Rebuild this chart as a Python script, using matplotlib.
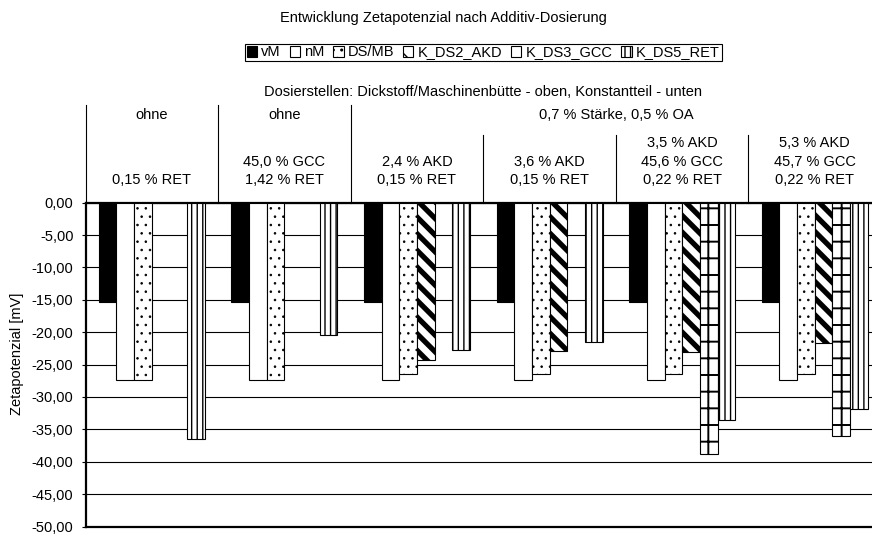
import numpy as np
import matplotlib
matplotlib.use("Agg")
import matplotlib.pyplot as plt
from matplotlib.patches import Rectangle
from matplotlib.lines import Line2D
from matplotlib.transforms import blended_transform_factory
from matplotlib.ticker import FuncFormatter, MultipleLocator

plt.rcParams['font.family'] = ['Liberation Sans', 'DejaVu Sans']

# ---- data -------------------------------------------------------------
series_names = ["vM", "nM", "DS/MB", "K_DS2_AKD", "K_DS3_GCC", "K_DS5_RET"]
nan = np.nan
vM = [-15.4, -15.4, -15.4, -15.4, -15.4, -15.4]
nM = [-27.4, -27.4, -27.4, -27.4, -27.4, -27.4]
DS_MB = [-27.4, -27.4, -26.4, -26.4, -26.4, -26.4]
K_DS2_AKD = [nan, nan, -24.3, -22.9, -23.0, -21.7]
K_DS3_GCC = [nan, nan, nan, nan, -38.8, -36.0]
K_DS5_RET = [-36.5, -20.4, -22.7, -21.5, -33.6, -31.9]
series_values = [vM, nM, DS_MB, K_DS2_AKD, K_DS3_GCC, K_DS5_RET]

group_top = ["ohne", "ohne"]
group_span_top = "0,7 % Stärke, 0,5 % OA"
group_lines = [
    ["0,15 % RET"],
    ["45,0 % GCC", "1,42 % RET"],
    ["2,4 % AKD", "0,15 % RET"],
    ["3,6 % AKD", "0,15 % RET"],
    ["3,5 % AKD", "45,6 % GCC", "0,22 % RET"],
    ["5,3 % AKD", "45,7 % GCC", "0,22 % RET"],
]
title = "Entwicklung Zetapotenzial nach Additiv-Dosierung"
subtitle = "Dosierstellen: Dickstoff/Maschinenbütte - oben, Konstantteil - unten"
ylabel = "Zetapotenzial [mV]"

# ---- styles (face, hatch, hatch linewidth) -----------------------------
styles = [
    dict(fc="black", hatch=None, hlw=1.0),
    dict(fc="white", hatch=None, hlw=1.0),
    dict(fc="white", hatch="..", hlw=0.6),
    dict(fc="white", hatch="\\\\", hlw=3.8),
    dict(fc="white", hatch="+", hlw=1.4),
    dict(fc="white", hatch="|||", hlw=1.0),
]

FS = 10.5
W, H, DPI = 872, 534, 100
fig = plt.figure(figsize=(W / DPI, H / DPI), dpi=DPI)


def fx(px):
    return px / W


def fy(py):
    return 1 - py / H


x_left, x_step = 85.5, 132.6
y_top, y_bot = 202.7, 526.5
ax = fig.add_axes([fx(x_left), fy(y_bot), fx(6 * x_step), fy(y_top) - fy(y_bot)])

n_groups = len(group_lines)
xs = np.arange(n_groups)
slot = 1 / 7.5


def make_patch_style(p, st):
    if st["hatch"]:
        p.set_hatch(st["hatch"])
        if hasattr(p, "set_hatch_linewidth"):
            p.set_hatch_linewidth(st["hlw"])


handles = []
for k, (name, vals, st) in enumerate(zip(series_names, series_values, styles)):
    vals = np.asarray(vals, float)
    mask = ~np.isnan(vals)
    offs = (k - 2.5) * slot
    with plt.rc_context({"hatch.linewidth": st["hlw"]}):
        bars = ax.bar(xs[mask] + offs, vals[mask], width=slot, facecolor=st["fc"],
                      edgecolor="black", linewidth=0.8, zorder=3)
        for b in bars:
            make_patch_style(b, st)
        h = Rectangle((0, 0), 1, 1, facecolor=st["fc"], edgecolor="black",
                      linewidth=0.8, label=name)
        make_patch_style(h, st)
    handles.append(h)

ax.set_xlim(-0.5, n_groups - 0.5)
ax.set_ylim(-50, 0)
ax.set_xticks([])
ax.yaxis.set_major_locator(MultipleLocator(5))
ax.yaxis.set_major_formatter(FuncFormatter(lambda v, _: f"{v:.2f}".replace(".", ",")))
ax.tick_params(axis="y", length=3.2, width=0.8, pad=5.5, labelsize=FS, colors="black")
ax.yaxis.grid(True, color="black", linewidth=0.8)
ax.set_axisbelow(True)
for side in ("left", "bottom", "top"):
    ax.spines[side].set_linewidth(1.6)
ax.spines["right"].set_visible(False)

# ---- header above the plot ---------------------------------------------
tr = blended_transform_factory(ax.transData, fig.transFigure)
for i in range(n_groups):
    y_start = 105 if i <= 2 else 135
    ax.add_artist(Line2D([i - 0.5, i - 0.5], [fy(y_start), fy(y_top)], transform=tr,
                         color="black", linewidth=0.8, clip_on=False))

for i, t in enumerate(group_top):
    fig.text(i, fy(115), t, transform=tr, ha="center", va="center", fontsize=FS)
fig.text((2 + n_groups - 1) / 2, fy(115), group_span_top, transform=tr,
         ha="center", va="center", fontsize=FS)

line_y = [143, 161.5, 180]
for i, lines in enumerate(group_lines):
    ys = line_y[-len(lines):]
    for t, yy in zip(lines, ys):
        fig.text(i, fy(yy), t, transform=tr, ha="center", va="center", fontsize=FS)

x_mid = (n_groups - 1) / 2
fig.text(fx(443), fy(18), title, ha="center", va="center", fontsize=FS)
fig.text(x_mid, fy(92), subtitle, transform=tr, ha="center", va="center", fontsize=FS)
fig.text(fx(16.7), fy(354), ylabel, rotation=90, ha="center", va="center", fontsize=FS)

leg = fig.legend(handles=handles, loc="center",
                 bbox_to_anchor=(fx(x_left + 3 * x_step), fy(52.5)),
                 bbox_transform=fig.transFigure, ncol=6, fontsize=FS,
                 handlelength=0.7, handleheight=0.7, handletextpad=0.3,
                 columnspacing=0.6, borderpad=0.12, borderaxespad=0,
                 frameon=True, fancybox=False, framealpha=1)
leg.get_frame().set_edgecolor("black")
leg.get_frame().set_linewidth(0.8)

fig.savefig("out.png", dpi=DPI, facecolor="white")
